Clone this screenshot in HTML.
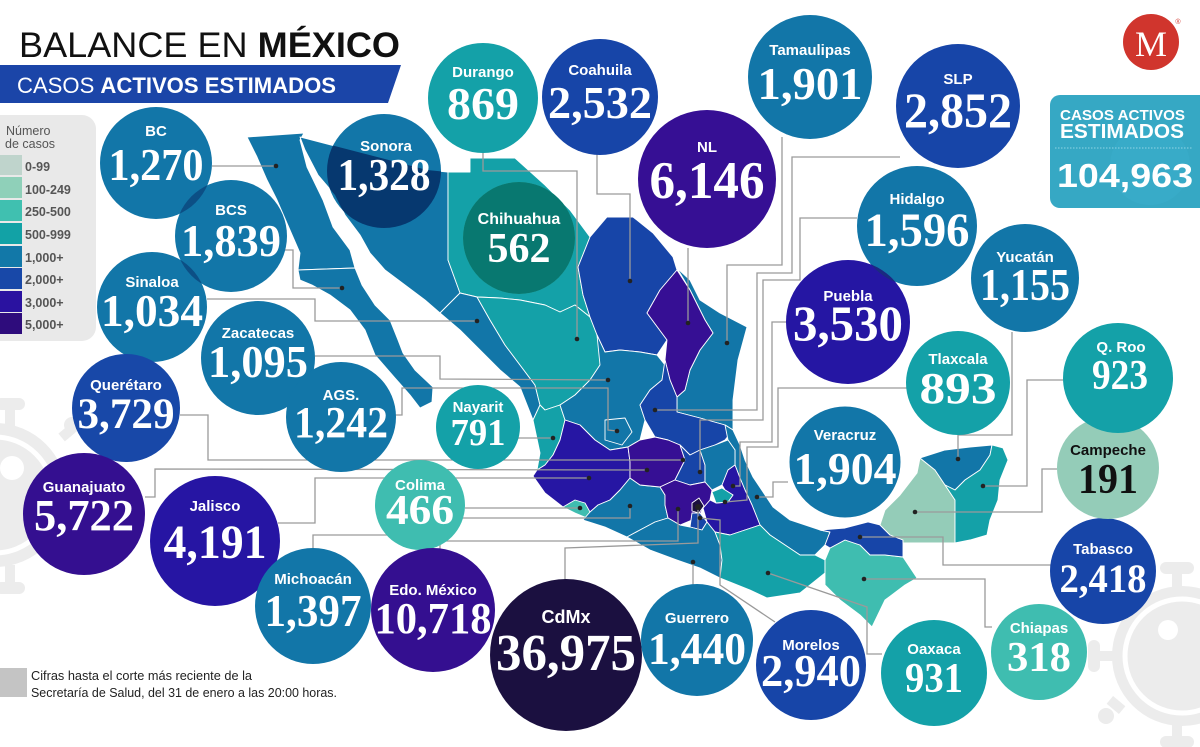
<!DOCTYPE html>
<html><head><meta charset="utf-8">
<style>
html,body{margin:0;padding:0;background:#fff;}
svg{display:block;}
.lb{font-family:"Liberation Sans",Arial,sans-serif;font-weight:bold;font-size:15px;fill:#fff;text-anchor:middle;}
.nm{font-family:"Liberation Serif","DejaVu Serif",serif;font-weight:bold;fill:#fff;text-anchor:middle;}
.st{stroke:#fff;stroke-width:0.9;stroke-linejoin:round;}
.ln{fill:none;stroke:#9a9a9a;stroke-width:1.3;}
</style></head>
<body>
<svg width="1200" height="747" viewBox="0 0 1200 747" xmlns="http://www.w3.org/2000/svg">
<defs>
<clipPath id="cBCS"><circle cx="231" cy="236" r="56"/></clipPath>
<clipPath id="cSin"><circle cx="152" cy="307" r="55"/></clipPath>
<clipPath id="cSon"><circle cx="384" cy="171" r="57"/></clipPath>
<clipPath id="cChi"><circle cx="519" cy="238" r="56"/></clipPath>
<clipPath id="cPue"><circle cx="848" cy="322" r="62"/></clipPath>
</defs>

<!-- background viruses -->
<g fill="#ececec">
  <circle cx="-5" cy="495" r="72"/>
  <rect x="5" y="405" width="10" height="22"/><rect x="-5" y="398" width="30" height="12" rx="6"/>
  <rect x="5" y="565" width="10" height="22"/><rect x="-5" y="582" width="30" height="12" rx="6"/>
  <rect x="60" y="428" width="14" height="10" transform="rotate(-40 67 433)"/><circle cx="72" cy="425" r="8"/>
  <circle cx="1182" cy="656" r="70"/>
  <rect x="1172" y="572" width="10" height="18"/><rect x="1160" y="562" width="34" height="12" rx="6"/>
  <rect x="1096" y="651" width="18" height="10"/><rect x="1088" y="640" width="12" height="32" rx="6"/>
  <rect x="1172" y="722" width="10" height="18"/><rect x="1160" y="736" width="34" height="12" rx="6"/>
  <rect x="1108" y="700" width="16" height="10" transform="rotate(40 1116 705)"/><circle cx="1106" cy="716" r="8"/>
</g>
<circle cx="1182" cy="656" r="57" fill="none" stroke="#fff" stroke-width="5"/>
<circle cx="1168" cy="630" r="10" fill="#fff"/>
<circle cx="-5" cy="495" r="58" fill="none" stroke="#fff" stroke-width="5"/>
<circle cx="12" cy="468" r="12" fill="#fff"/>

<!-- title -->
<text x="19" y="57" font-family="Liberation Sans,Arial,sans-serif" font-size="35" fill="#111" textLength="381" lengthAdjust="spacingAndGlyphs">BALANCE EN <tspan font-weight="bold">MÉXICO</tspan></text>
<polygon points="0,65 401,65 388,103 0,103" fill="#1b45a8"/>
<text x="17" y="93" font-family="Liberation Sans,Arial,sans-serif" font-size="22" fill="#fff" textLength="319" lengthAdjust="spacingAndGlyphs">CASOS <tspan font-weight="bold">ACTIVOS ESTIMADOS</tspan></text>

<!-- legend -->
<rect x="-15" y="115" width="111" height="226" rx="14" fill="#e9e9e9"/>
<g font-family="Liberation Sans,Arial,sans-serif" fill="#555">
<text x="6" y="135" font-size="12.5">Número</text>
<text x="5" y="148" font-size="12.5">de casos</text>
<g font-weight="bold" font-size="12.5">
<rect x="0" y="155" width="22" height="20" fill="#bfd4cc"/><text x="25" y="171">0-99</text>
<rect x="0" y="177" width="22" height="21" fill="#8fd0b9"/><text x="25" y="194">100-249</text>
<rect x="0" y="200" width="22" height="21" fill="#40c0b0"/><text x="25" y="216">250-500</text>
<rect x="0" y="223" width="22" height="21" fill="#12a2a6"/><text x="25" y="239">500-999</text>
<rect x="0" y="246" width="22" height="21" fill="#1278a8"/><text x="25" y="262">1,000+</text>
<rect x="0" y="268" width="22" height="21" fill="#1848a8"/><text x="25" y="284">2,000+</text>
<rect x="0" y="291" width="22" height="21" fill="#2a12a0"/><text x="25" y="307">3,000+</text>
<rect x="0" y="313" width="22" height="21" fill="#2e0c7c"/><text x="25" y="329">5,000+</text>
</g></g>

<!-- logo -->
<circle cx="1151" cy="42" r="28" fill="#d0352d"/>
<text x="1151" y="56" font-family="Liberation Serif,serif" font-size="36" fill="#fff" text-anchor="middle">M</text>
<text x="1178" y="24" font-family="Liberation Sans,sans-serif" font-size="7" fill="#d0352d" text-anchor="middle">®</text>

<!-- total box -->
<rect x="1050" y="95" width="170" height="113" rx="10" fill="#36a8c4"/>
<circle cx="1150" cy="165" r="40" fill="#3aaecb" opacity="0.6"/>
<g font-family="Liberation Sans,Arial,sans-serif" font-weight="bold" fill="#fff">
<text x="1060" y="120" font-size="15" textLength="125" lengthAdjust="spacingAndGlyphs">CASOS ACTIVOS</text>
<text x="1060" y="138" font-size="20" textLength="124" lengthAdjust="spacingAndGlyphs">ESTIMADOS</text>
<text x="1057" y="187" font-size="33" textLength="136" lengthAdjust="spacingAndGlyphs">104,963</text>
</g>
<line x1="1055" y1="148" x2="1192" y2="148" stroke="#8fd3e4" stroke-width="1" stroke-dasharray="1.5,1.5"/>

<!-- MAP -->
<g class="st">
<polygon fill="#1276a8" points="247,137 304,133 300,140 307,167 323,200 333,227 350,250 355,268 298,270 300,253 290,230 277,200 267,180 257,157"/>
<polygon fill="#1276a8" points="298,270 355,268 362,285 375,305 390,320 398,340 403,353 415,370 433,387 432,402 420,408 410,395 395,378 375,355 365,330 350,310 330,295 312,285 300,280"/>
<polygon id="sonora" fill="#1276a8" points="300,137 427,170 448,172 448,260 460,293 440,313 425,300 405,285 385,270 370,253 360,235 345,215 335,195 318,175 305,150"/>
<polygon fill="#14a1a8" points="448,172 470,172 470,158 515,158 545,185 570,210 590,237 578,267 583,295 590,317 575,305 560,312 545,305 520,300 500,298 477,297 460,293 448,260"/>
<polygon fill="#1276a8" points="440,313 460,293 477,297 490,320 505,345 520,365 535,385 540,405 533,420 520,387 500,370 483,353 460,330"/>
<polygon fill="#14a1a8" points="477,297 500,298 520,300 545,305 560,312 575,305 590,317 597,335 605,352 600,365 590,380 575,395 560,405 545,410 540,405 535,385 520,365 505,345 490,320"/>
<polygon fill="#14a1a8" points="533,420 540,405 545,410 560,405 565,420 560,440 553,455 545,465 537,470 540,453"/>
<polygon fill="#1745a8" points="590,237 607,217 633,217 653,233 673,257 677,270 660,290 647,313 667,340 657,355 640,352 620,350 605,352 597,335 590,317 583,295 578,267"/>
<polygon fill="#1276a8" points="677,268 690,280 700,300 720,313 747,327 738,360 733,400 733,430 725,425 700,418 677,412 677,397 685,390 690,370 700,350 713,333 705,320 690,290"/>
<polygon fill="#360f94" points="677,270 690,290 705,320 713,333 700,350 690,370 685,390 677,397 670,380 665,360 667,340 647,313 660,290"/>
<polygon fill="#1276a8" points="597,335 605,352 620,350 640,352 657,355 665,365 662,380 650,390 640,405 645,420 640,440 628,447 610,450 595,440 580,425 565,420 560,405 575,395 590,380 600,365"/>
<polygon fill="#1745a8" points="662,380 665,360 670,380 677,397 677,412 700,418 725,425 733,430 725,440 715,445 700,450 690,455 680,445 668,440 655,437 645,420 640,405 650,390"/>
<polygon fill="#1276a8" points="605,420 625,418 632,432 622,445 605,440"/>
<polygon fill="#2616a3" points="533,476 537,470 545,465 553,455 560,440 565,420 580,425 595,440 610,450 628,447 630,462 630,478 620,490 610,500 598,505 590,512 575,512 563,507 545,493"/>
<polygon fill="#3fbdb0" points="563,507 575,500 585,503 590,512 587,518 575,513"/>
<polygon fill="#1276a8" points="583,520 590,512 598,505 610,500 620,490 630,478 640,485 660,487 665,495 665,505 668,518 655,522 640,530 627,537 605,527"/>
<polygon fill="#360f94" points="628,447 640,440 655,437 668,440 680,445 685,460 675,480 660,487 640,485 630,478 630,462"/>
<polygon fill="#1745a8" points="680,445 690,455 700,450 705,465 705,482 690,485 675,480 685,460"/>
<polygon fill="#1276a8" points="725,425 733,430 740,445 745,460 753,477 765,495 773,507 790,520 820,530 830,532 825,545 815,555 800,555 785,545 770,535 760,525 752,505 745,490 740,478 735,465 735,450 728,440"/>
<polygon fill="#1276a8" points="700,450 715,445 728,440 735,450 735,465 728,470 722,485 712,490 705,482 705,465"/>
<polygon fill="#2616a3" points="722,485 728,470 735,465 740,478 745,490 752,505 760,525 745,530 730,535 715,532 707,522 703,508 710,500 716,503 728,502 733,495 725,490"/>
<polygon fill="#14a1a8" points="712,492 722,488 733,495 728,502 716,503"/>
<polygon fill="#360f94" points="660,487 675,480 690,485 705,482 712,490 710,500 703,508 700,515 692,520 680,525 668,518 665,505 665,495"/>
<polygon fill="#1b1040" points="692,503 699,498 704,506 699,513 692,511"/>
<polygon fill="#1745a8" points="692,513 700,513 707,522 702,530 690,527"/>
<polygon fill="#1276a8" points="627,537 640,530 655,522 668,518 680,525 690,527 702,530 707,522 715,532 720,545 722,560 720,578 700,568 677,560 650,550"/>
<polygon fill="#14a1a8" points="720,545 715,532 730,535 745,530 760,525 770,535 785,545 800,555 815,555 825,560 825,573 810,585 800,593 767,598 750,590 720,578 722,560"/>
<polygon fill="#3fbdb0" points="825,560 830,548 845,540 860,545 870,555 885,555 903,557 917,578 905,585 885,600 872,627 860,615 840,600 825,585 825,573"/>
<polygon fill="#1745a8" points="820,530 845,528 868,522 880,525 890,535 903,540 903,557 885,555 870,555 860,545 845,540 830,548 825,545 830,532"/>
<polygon fill="#94ccb8" points="880,525 885,510 900,495 917,473 920,458 935,470 945,485 955,500 955,543 903,543 903,540 890,535"/>
<polygon fill="#1276a8" points="920,458 945,450 970,447 992,445 990,455 980,470 965,480 955,490 945,485 935,470"/>
<polygon fill="#14a1a8" points="992,445 1003,448 1008,460 1000,480 998,500 990,520 987,535 970,540 955,543 955,500 945,485 955,490 965,480 980,470 990,455"/>
</g>

<!-- leader lines -->
<g class="ln">
<polyline points="212,166 276,166"/>
<polyline points="285,250 293,250 293,288 342,288"/>
<polyline points="207,299 315,299 315,321 477,321"/>
<polyline points="483,153 483,171 577,171 577,339"/>
<polyline points="597,154 597,194 630,194 630,281"/>
<polyline points="688,248 688,323"/>
<polyline points="782,137 782,265 727,265 727,343"/>
<polyline points="900,157 792,157 792,273 757,273 757,410 655,410"/>
<polyline points="857,218 800,218 800,280 763,280 763,420 700,420 700,472"/>
<polyline points="786,322 772,322 772,442 740,442 740,486 733,486"/>
<polyline points="907,388 778,388 778,447 747,447 747,500 725,502"/>
<polyline points="788,482 773,482 773,497 757,497"/>
<polyline points="1012,332 1012,435 958,435 958,459"/>
<polyline points="1063,380 1027,380 1027,486 983,486"/>
<polyline points="1057,469 1042,469 1042,512 915,512"/>
<polyline points="1051,565 943,565 943,537 860,537"/>
<polyline points="992,627 985,627 985,579 864,579"/>
<polyline points="882,654 867,654 867,607 768,573"/>
<polyline points="775,622 720,585 720,520 700,518"/>
<polyline points="693,585 693,562"/>
<polyline points="565,580 565,548 698,543 698,507"/>
<polyline points="440,549 440,541 678,541 678,509"/>
<polyline points="313,548 313,535 420,535 440,518 630,518 630,506"/>
<polyline points="278,523 315,523 315,478 589,478"/>
<polyline points="145,497 155,497 155,469 647,470"/>
<polyline points="180,415 208,415 208,460 683,460"/>
<polyline points="465,508 580,508"/>
<polyline points="508,438 553,438"/>
<polyline points="395,415 402,415 402,388 608,388 608,430 617,431"/>
<polyline points="302,356 440,356 440,379 608,380"/>
</g>
<g fill="#222">
<circle cx="276" cy="166" r="2.3"/><circle cx="342" cy="288" r="2.3"/><circle cx="477" cy="321" r="2.3"/>
<circle cx="577" cy="339" r="2.3"/><circle cx="630" cy="281" r="2.3"/><circle cx="688" cy="323" r="2.3"/>
<circle cx="727" cy="343" r="2.3"/><circle cx="655" cy="410" r="2.3"/><circle cx="700" cy="472" r="2.3"/>
<circle cx="733" cy="486" r="2.3"/><circle cx="725" cy="502" r="2.3"/><circle cx="757" cy="497" r="2.3"/>
<circle cx="958" cy="459" r="2.3"/><circle cx="983" cy="486" r="2.3"/><circle cx="915" cy="512" r="2.3"/>
<circle cx="860" cy="537" r="2.3"/><circle cx="864" cy="579" r="2.3"/><circle cx="768" cy="573" r="2.3"/>
<circle cx="700" cy="518" r="2.3"/><circle cx="693" cy="562" r="2.3"/><circle cx="698" cy="507" r="3"/>
<circle cx="678" cy="509" r="2.3"/><circle cx="630" cy="506" r="2.3"/><circle cx="589" cy="478" r="2.3"/>
<circle cx="647" cy="470" r="2.3"/><circle cx="683" cy="460" r="2.3"/><circle cx="580" cy="508" r="2.3"/>
<circle cx="553" cy="438" r="2.3"/><circle cx="617" cy="431" r="2.3"/><circle cx="608" cy="380" r="2.3"/>
</g>

<!-- circles -->
<g>
<circle cx="156" cy="163" r="56" fill="#1276a8"/>
<circle cx="231" cy="236" r="56" fill="#1276a8"/>
<circle cx="152" cy="307" r="55" fill="#1276a8"/>
<circle cx="156" cy="163" r="56" fill="#0c4f85" clip-path="url(#cBCS)"/>
<circle cx="152" cy="307" r="55" fill="#0c4f85" clip-path="url(#cBCS)"/>
<circle cx="384" cy="171" r="57" fill="#1276a8"/>
<polygon clip-path="url(#cSon)" fill="#06386f" points="300,137 427,170 448,172 448,260 460,293 440,313 425,300 405,285 385,270 370,253 360,235 345,215 335,195 318,175 305,150"/>
<circle cx="519" cy="238" r="56" fill="#41bdb0"/>
<polygon clip-path="url(#cChi)" fill="#087870" points="448,172 470,172 470,158 515,158 545,185 570,210 590,237 578,267 583,295 590,317 575,305 560,312 545,305 520,300 500,298 477,297 460,293 448,260"/>
<circle cx="258" cy="358" r="57" fill="#1276a8"/>
<circle cx="341" cy="417" r="55" fill="#1276a8"/>
<circle cx="478" cy="427" r="42" fill="#14a1a8"/>
<circle cx="126" cy="408" r="54" fill="#1848a8"/>
<circle cx="84" cy="514" r="61" fill="#340f90"/>
<circle cx="215" cy="541" r="65" fill="#2615a3"/>
<circle cx="313" cy="606" r="58" fill="#1276a8"/>
<circle cx="420" cy="505" r="45" fill="#3fbdb0"/>
<circle cx="433" cy="610" r="62" fill="#340f90"/>
<circle cx="566" cy="655" r="76" fill="#1b1040"/>
<circle cx="697" cy="640" r="56" fill="#1276a8"/>
<circle cx="811" cy="665" r="55" fill="#1745a8"/>
<circle cx="934" cy="673" r="53" fill="#14a1a8"/>
<circle cx="1039" cy="652" r="48" fill="#3fbdb0"/>
<circle cx="1103" cy="571" r="53" fill="#1745a8"/>
<circle cx="1108" cy="468" r="51" fill="#94ccb8"/>
<circle cx="1118" cy="378" r="55" fill="#14a1a8"/>
<circle cx="958" cy="383" r="52" fill="#14a1a8"/>
<circle cx="845" cy="462" r="57" fill="#1276a8" stroke="#fff" stroke-width="3"/>
<circle cx="1025" cy="278" r="54" fill="#1276a8"/>
<circle cx="917" cy="226" r="60" fill="#1276a8"/>
<circle cx="848" cy="322" r="62" fill="#2516a3"/>
<circle cx="917" cy="226" r="60" fill="#1a2a80" clip-path="url(#cPue)"/>
<circle cx="958" cy="106" r="62" fill="#1745a8"/>
<circle cx="810" cy="77" r="62" fill="#1276a8"/>
<circle cx="707" cy="179" r="69" fill="#360f94"/>
<circle cx="600" cy="97" r="58" fill="#1745a8"/>
<circle cx="483" cy="98" r="55" fill="#14a1a8"/>
</g>

<!-- labels -->
<g class="lb">
<text x="156" y="136">BC</text>
<text x="231" y="215">BCS</text>
<text x="152" y="287">Sinaloa</text>
<text x="386" y="151">Sonora</text>
<text x="519" y="224" font-size="16">Chihuahua</text>
<text x="258" y="338">Zacatecas</text>
<text x="341" y="400">AGS.</text>
<text x="478" y="412">Nayarit</text>
<text x="126" y="390">Querétaro</text>
<text x="84" y="492">Guanajuato</text>
<text x="215" y="511">Jalisco</text>
<text x="313" y="584">Michoacán</text>
<text x="420" y="490">Colima</text>
<text x="433" y="595">Edo. México</text>
<text x="566" y="623" font-size="18">CdMx</text>
<text x="697" y="623">Guerrero</text>
<text x="811" y="650">Morelos</text>
<text x="934" y="654">Oaxaca</text>
<text x="1039" y="633">Chiapas</text>
<text x="1103" y="554">Tabasco</text>
<text x="1108" y="455" fill="#111">Campeche</text>
<text x="1121" y="352">Q. Roo</text>
<text x="958" y="364">Tlaxcala</text>
<text x="845" y="440">Veracruz</text>
<text x="1025" y="262">Yucatán</text>
<text x="848" y="301">Puebla</text>
<text x="917" y="204">Hidalgo</text>
<text x="958" y="84">SLP</text>
<text x="810" y="55">Tamaulipas</text>
<text x="707" y="152">NL</text>
<text x="600" y="75">Coahuila</text>
<text x="483" y="77">Durango</text>
</g>

<!-- numbers -->
<g class="nm">
<text x="156" y="180" font-size="45" textLength="95" lengthAdjust="spacingAndGlyphs">1,270</text>
<text x="231" y="256" font-size="46" textLength="100" lengthAdjust="spacingAndGlyphs">1,839</text>
<text x="152" y="326" font-size="46" textLength="102" lengthAdjust="spacingAndGlyphs">1,034</text>
<text x="384" y="190" font-size="45" textLength="93" lengthAdjust="spacingAndGlyphs">1,328</text>
<text x="519" y="262" font-size="42" textLength="63" lengthAdjust="spacingAndGlyphs">562</text>
<text x="258" y="377" font-size="45" textLength="100" lengthAdjust="spacingAndGlyphs">1,095</text>
<text x="341" y="437" font-size="44" textLength="94" lengthAdjust="spacingAndGlyphs">1,242</text>
<text x="478" y="445" font-size="38" textLength="55" lengthAdjust="spacingAndGlyphs">791</text>
<text x="126" y="428" font-size="43" textLength="97" lengthAdjust="spacingAndGlyphs">3,729</text>
<text x="84" y="530" font-size="44" textLength="100" lengthAdjust="spacingAndGlyphs">5,722</text>
<text x="215" y="558" font-size="48" textLength="103" lengthAdjust="spacingAndGlyphs">4,191</text>
<text x="313" y="626" font-size="46" textLength="97" lengthAdjust="spacingAndGlyphs">1,397</text>
<text x="420" y="524" font-size="42" textLength="68" lengthAdjust="spacingAndGlyphs">466</text>
<text x="433" y="633" font-size="44" textLength="117" lengthAdjust="spacingAndGlyphs">10,718</text>
<text x="566" y="670" font-size="52" textLength="140" lengthAdjust="spacingAndGlyphs">36,975</text>
<text x="697" y="664" font-size="46" textLength="98" lengthAdjust="spacingAndGlyphs">1,440</text>
<text x="811" y="686" font-size="46" textLength="100" lengthAdjust="spacingAndGlyphs">2,940</text>
<text x="934" y="692" font-size="42" textLength="58" lengthAdjust="spacingAndGlyphs">931</text>
<text x="1039" y="671" font-size="42" textLength="64" lengthAdjust="spacingAndGlyphs">318</text>
<text x="1103" y="592" font-size="40" textLength="87" lengthAdjust="spacingAndGlyphs">2,418</text>
<text x="1108" y="493" font-size="42" textLength="60" lengthAdjust="spacingAndGlyphs" fill="#111">191</text>
<text x="1120" y="389" font-size="42" textLength="56" lengthAdjust="spacingAndGlyphs">923</text>
<text x="958" y="403" font-size="44" textLength="77" lengthAdjust="spacingAndGlyphs">893</text>
<text x="845" y="484" font-size="46" textLength="103" lengthAdjust="spacingAndGlyphs">1,904</text>
<text x="1025" y="300" font-size="45" textLength="90" lengthAdjust="spacingAndGlyphs">1,155</text>
<text x="848" y="340" font-size="50" textLength="110" lengthAdjust="spacingAndGlyphs">3,530</text>
<text x="917" y="246" font-size="48" textLength="105" lengthAdjust="spacingAndGlyphs">1,596</text>
<text x="958" y="127" font-size="50" textLength="108" lengthAdjust="spacingAndGlyphs">2,852</text>
<text x="810" y="99" font-size="46" textLength="105" lengthAdjust="spacingAndGlyphs">1,901</text>
<text x="707" y="198" font-size="53" textLength="115" lengthAdjust="spacingAndGlyphs">6,146</text>
<text x="600" y="118" font-size="46" textLength="104" lengthAdjust="spacingAndGlyphs">2,532</text>
<text x="483" y="119" font-size="46" textLength="72" lengthAdjust="spacingAndGlyphs">869</text>
</g>

<!-- footnote -->
<rect x="0" y="668" width="27" height="29" fill="#c4c4c4"/>
<g font-family="Liberation Sans,Arial,sans-serif" font-size="12.5" fill="#222">
<text x="31" y="680" textLength="221" lengthAdjust="spacingAndGlyphs">Cifras hasta el corte más reciente de la</text>
<text x="31" y="697" textLength="306" lengthAdjust="spacingAndGlyphs">Secretaría de Salud, del 31 de enero a las 20:00 horas.</text>
</g>
</svg>
</body></html>
